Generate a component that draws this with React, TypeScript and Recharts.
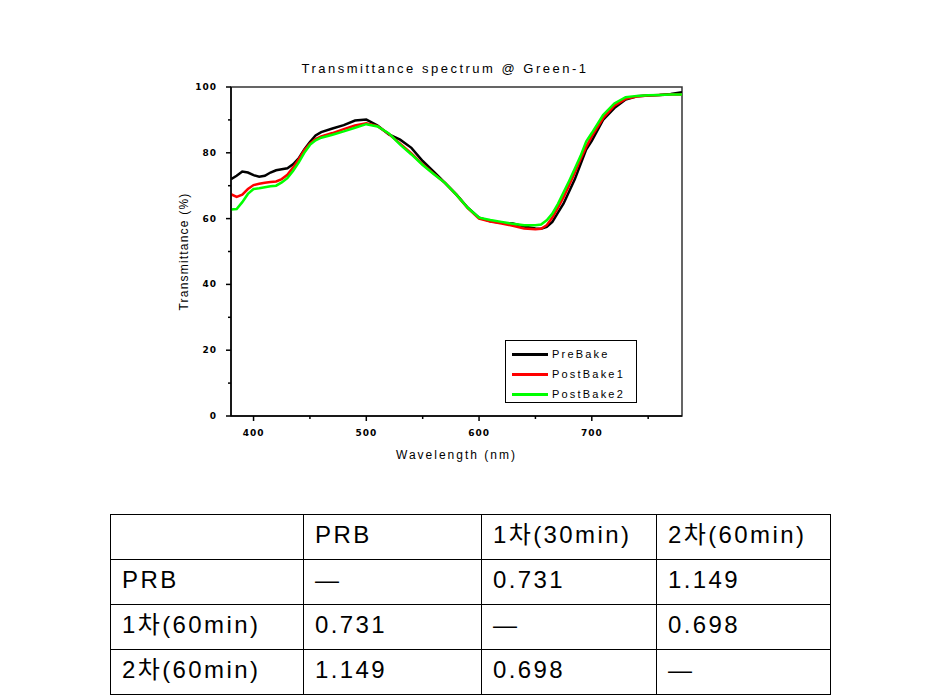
import React from "react";
import {
  LineChart,
  Line,
  XAxis,
  YAxis,
  Legend,
  ReferenceArea
} from "recharts";

const wavelength = [
  380, 385, 390, 395, 400, 405, 410, 415, 420, 425, 430, 435, 440, 445, 450, 455, 460,
  470, 480, 490, 500, 510, 520, 530, 540, 550, 560, 570, 580, 590, 600, 610, 620, 630,
  640, 650, 655, 660, 665, 670, 675, 680, 685, 690, 695, 700, 710, 720, 730, 740, 750,
  760, 770, 780
];

const preBake = [
  72.0, 73.0, 74.3, 74.0, 73.2, 72.7, 73.0, 74.0, 74.7, 75.0, 75.3, 76.5, 78.3, 81.0, 83.3, 85.3, 86.3,
  87.4, 88.4, 89.8, 90.1, 88.3, 85.6, 84.0, 81.5, 77.5, 74.2, 70.8, 67.3, 63.3, 60.3, 59.2, 58.7, 58.5,
  57.6, 57.0, 56.9, 57.5, 59.0, 61.8, 64.6, 68.3, 72.0, 76.5, 81.0, 83.6, 90.0, 93.6, 96.2, 97.2, 97.4,
  97.6, 97.9, 98.4
];

const postBake1 = [
  67.4, 66.6, 67.3, 69.0, 70.2, 70.6, 70.9, 71.1, 71.3, 72.0, 73.3, 75.5, 78.0, 80.8, 82.8, 84.2, 85.0,
  86.0, 87.2, 88.3, 89.0, 88.1, 85.7, 82.8, 79.8, 76.5, 73.6, 70.8, 67.2, 63.2, 60.0, 59.1, 58.5, 57.8,
  57.0, 56.8, 56.9, 58.0, 60.3, 63.3, 66.5, 70.2, 74.0, 78.0, 81.8, 85.0, 90.5, 94.3, 96.4, 97.1, 97.4,
  97.6, 97.7, 97.7
];

const postBake2 = [
  62.8, 62.9, 65.0, 67.5, 69.0, 69.2, 69.5, 69.8, 70.0, 71.0, 72.3, 74.5, 77.0, 80.0, 82.4, 83.8, 84.6,
  85.5, 86.5, 87.6, 88.7, 88.0, 85.9, 82.5, 79.5, 76.3, 73.5, 70.8, 67.2, 63.3, 60.3, 59.6, 59.0, 58.4,
  58.0, 58.0, 58.2, 59.5, 61.5, 64.5, 68.0, 71.5, 75.2, 79.0, 83.4, 86.0, 91.5, 95.0, 96.9, 97.3, 97.5,
  97.6, 97.7, 97.7
];

const xTicks = [400, 450, 500, 550, 600, 650, 700, 750];
const yTicks = [0, 10, 20, 30, 40, 50, 60, 70, 80, 90, 100];

const seriesNames = ["PreBake", "PostBake1", "PostBake2"];
const seriesColors = ["#000000", "#ff0000", "#00ff00"];

const tableHeader = ["", "PRB", "1차(30min)", "2차(60min)"];
const tableRows = [
  ["PRB", "—", "0.731", "1.149"],
  ["1차(60min)", "0.731", "—", "0.698"],
  ["2차(60min)", "1.149", "0.698", "—"]
];
const colWidths = [193, 178, 175, 174];

const data = wavelength.map((w, i) => ({
  wavelength: w,
  preBake: preBake[i],
  postBake1: postBake1[i],
  postBake2: postBake2[i]
}));

const tickFont = {
  fontFamily: "DejaVu Sans",
  fontSize: 9,
  fontWeight: "bold" as const,
  letterSpacing: 1
};

const XTick = (props: any) => {
  const { x, y, payload } = props;
  const major = payload.value % 100 === 0;
  return (
    <g>
      <line x1={x} y1={y} x2={x} y2={y + (major ? 5 : 3)} stroke="#000" strokeWidth={1.5} />
      {major && (
        <text x={x} y={y + 20} textAnchor="middle" fill="#000" style={tickFont}>
          {payload.value}
        </text>
      )}
    </g>
  );
};

const YTick = (props: any) => {
  const { x, y, payload } = props;
  const major = payload.value % 20 === 0;
  return (
    <g>
      <line x1={x} y1={y} x2={x - (major ? 5 : 3)} y2={y} stroke="#000" strokeWidth={1.5} />
      {major && (
        <text x={x - 14} y={y + 3} textAnchor="end" fill="#000" style={tickFont}>
          {payload.value}
        </text>
      )}
    </g>
  );
};

const LegendBox = () => (
  <div
    style={{
      width: 132,
      height: 63,
      border: "1.5px solid #000",
      background: "#fff",
      boxSizing: "border-box",
      paddingTop: 3
    }}
  >
    {seriesNames.map((name, i) => (
      <div key={name} style={{ display: "flex", alignItems: "center", height: 20 }}>
        <div style={{ width: 36, height: 3, background: seriesColors[i], marginLeft: 6 }} />
        <span
          style={{
            marginLeft: 4,
            fontFamily: "Liberation Sans",
            fontSize: 11,
            letterSpacing: 2.2,
            color: "#000"
          }}
        >
          {name}
        </span>
      </div>
    ))}
  </div>
);

export default function App() {
  const cellStyle = {
    border: "1px solid #000",
    padding: "0 0 5px 11px",
    height: 45,
    lineHeight: "28px",
    textAlign: "left" as const,
    verticalAlign: "middle" as const,
    fontFamily: "'Liberation Sans', 'Noto Sans CJK KR'",
    fontSize: 24,
    letterSpacing: 2.4,
    fontWeight: "normal" as const,
    color: "#000",
    boxSizing: "border-box" as const
  };

  return (
    <div style={{ position: "absolute", left: 0, top: 0, width: 950, height: 700, background: "#fff" }}>
      <div
        style={{
          position: "absolute",
          left: 230,
          width: 430,
          top: 61,
          textAlign: "center",
          fontFamily: "Liberation Sans",
          fontSize: 13,
          letterSpacing: 2.5,
          color: "#000"
        }}
      >
        Transmittance spectrum @ Green-1
      </div>
      <LineChart
        width={950}
        height={480}
        data={data}
        margin={{ top: 87, right: 268, left: 171, bottom: 19 }}
        style={{ position: "absolute", left: 0, top: 0 }}
      >
        <ReferenceArea
          x1={380}
          x2={780}
          y1={0}
          y2={100}
          fill="none"
          stroke="#333"
          strokeWidth={1.5}
          ifOverflow="visible"
        />
        <XAxis
          dataKey="wavelength"
          type="number"
          domain={[380, 780]}
          ticks={xTicks}
          interval={0}
          height={45}
          tickSize={0}
          tickMargin={0}
          tickLine={false}
          tick={<XTick />}
          axisLine={{ stroke: "#000", strokeWidth: 1.5 }}
          allowDataOverflow
          label={{
            value: "Wavelength (nm)",
            position: "insideBottom",
            offset: 2,
            style: { fontFamily: "Liberation Sans", fontSize: 12, letterSpacing: 2, fill: "#000" }
          }}
        />
        <YAxis
          type="number"
          domain={[0, 100]}
          ticks={yTicks}
          interval={0}
          width={60}
          tickSize={0}
          tickMargin={0}
          tickLine={false}
          tick={<YTick />}
          axisLine={{ stroke: "#000", strokeWidth: 1.5 }}
          allowDataOverflow
          label={{
            value: "Transmittance (%)",
            angle: -90,
            position: "insideLeft",
            offset: 13,
            style: {
              textAnchor: "middle",
              fontFamily: "Liberation Sans",
              fontSize: 12,
              letterSpacing: 1.2,
              fill: "#000"
            }
          }}
        />
        <Line
          dataKey="preBake"
          name="PreBake"
          stroke={seriesColors[0]}
          strokeWidth={2.5}
          dot={false}
          type="linear"
          isAnimationActive={false}
        />
        <Line
          dataKey="postBake1"
          name="PostBake1"
          stroke={seriesColors[1]}
          strokeWidth={2.5}
          dot={false}
          type="linear"
          isAnimationActive={false}
        />
        <Line
          dataKey="postBake2"
          name="PostBake2"
          stroke={seriesColors[2]}
          strokeWidth={2.5}
          dot={false}
          type="linear"
          isAnimationActive={false}
        />
        <Legend
          layout="vertical"
          align="center"
          verticalAlign="middle"
          content={<LegendBox />}
          wrapperStyle={{ position: "absolute", left: 505, top: 340, width: 132, height: 63 }}
        />
      </LineChart>
      <table
        style={{
          position: "absolute",
          left: 110,
          top: 514,
          borderCollapse: "collapse",
          tableLayout: "fixed",
          width: 720
        }}
      >
        <colgroup>
          {colWidths.map((w, i) => (
            <col key={i} style={{ width: w }} />
          ))}
        </colgroup>
        <tbody>
          <tr>
            {tableHeader.map((h, i) => (
              <td key={i} style={cellStyle}>
                {h}
              </td>
            ))}
          </tr>
          {tableRows.map((row, r) => (
            <tr key={r}>
              {row.map((c, i) => (
                <td key={i} style={cellStyle}>
                  {c}
                </td>
              ))}
            </tr>
          ))}
        </tbody>
      </table>
    </div>
  );
}
